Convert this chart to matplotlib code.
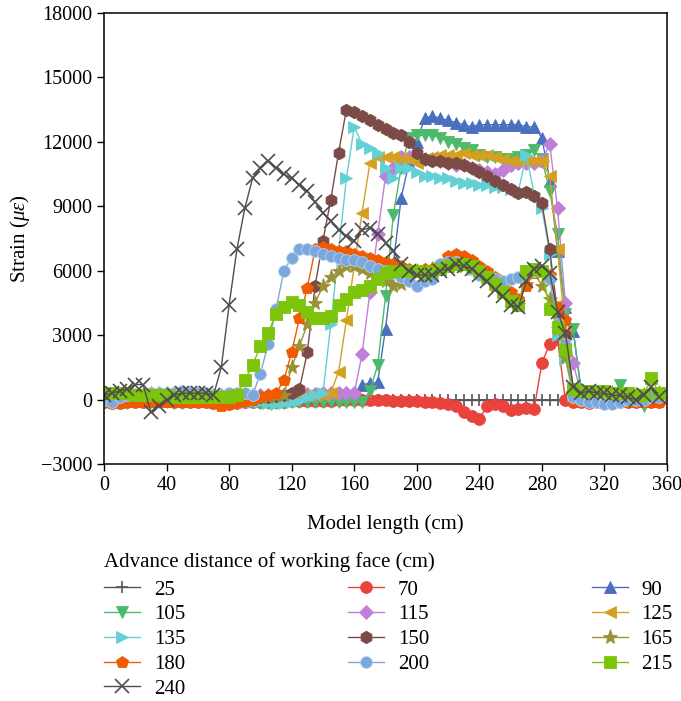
import numpy as np
import matplotlib
matplotlib.use("Agg")
import matplotlib.pyplot as plt

plt.rcParams['font.family'] = ['Liberation Serif', 'DejaVu Serif']
plt.rcParams['mathtext.fontset'] = 'custom'
plt.rcParams['mathtext.rm'] = 'Liberation Serif'
plt.rcParams['mathtext.it'] = 'Liberation Serif:italic'

# model length positions (cm)
x = np.arange(0, 360, 5)

s25 = [0] * 72
s70 = [-100, -150, -150, -100, -100, -100, -50, -50, -50, -100, -100, -100,
       -100, -100, -150, -150, -200, -150, -100, -100, -100, -100, -100, -100,
       -50, -50, -50, -50, -50, -50, 0, 0, 0, 0, 0, 0,
       0, -50, -50, -50, -50, -100, -100, -150, -200, -300, -600, -750,
       -900, -300, -200, -300, -500, -450, -400, -450, 1700, 2600, 2800, 0,
       -100, -100, -150, -100, -100, -150, -100, -100, -100, -100, -100, -100]
s90 = [100, 100, 50, 50, 100, 100, 100, 50, 50, 100, 100, 100,
       100, 100, 100, 50, 50, 50, 50, 50, 100, 100, 100, 100,
       100, 100, 100, 100, 100, 100, 150, 150, 200, 700, 750, 800,
       3300, 6300, 9400, 11000, 12000, 13100, 13200, 13100, 13000, 12900, 12800, 12700,
       12800, 12800, 12800, 12800, 12800, 12800, 12700, 12700, 12200, 10200, 6900, 4300,
       3200, 500, 300, 300, 200, 200, 100, 100, 100, 100, 100, 100]
s105 = [-100, -100, -150, -150, -100, -100, -100, -100, -100, -150, -150, -100,
        -100, -100, -100, -100, -100, -100, -100, -100, -150, -150, -150, -150,
        -100, -100, -100, -100, -100, -100, -100, -100, -100, -100, 400, 1600,
        4800, 8600, 10800, 12200, 12300, 12300, 12300, 12200, 12000, 11900, 11700, 11600,
        11400, 11300, 11300, 11200, 11200, 11300, 11400, 11600, 11200, 9700, 7700, 4000,
        3300, 400, 300, 300, 300, 300, 700, 300, 100, -300, 200, 100]
s115 = [100, 100, 150, 150, 200, 200, 300, 300, 300, 300, 300, 300,
        300, 250, 200, 200, 200, 200, 200, 200, 200, 200, 200, 200,
        200, 200, 250, 250, 300, 300, 300, 300, 300, 2100, 5000, 7700,
        10400, 10800, 11300, 11300, 11300, 11200, 11200, 11100, 11000, 10900, 10900, 10800,
        10700, 10600, 10500, 10700, 10900, 11000, 11000, 11000, 11100, 11900, 8900, 4500,
        1700, 300, 200, 100, 0, 0, 0, 0, 0, 0, 100, 100]
s125 = [100, 100, 100, 100, 100, 100, 100, 100, 100, 100, 100, 100,
        100, 100, 100, 100, 100, 100, 50, 50, 100, 100, 100, 200,
        200, 200, 200, 200, 200, 300, 1300, 3700, 6200, 8700, 11000, 11300,
        11300, 11300, 11200, 11200, 11000, 11200, 11300, 11400, 11400, 11400, 11500, 11400,
        11400, 11400, 11300, 11200, 11100, 11100, 11100, 11100, 11100, 10400, 7000, 3100,
        500, 300, 200, 200, 200, 200, 200, 200, 200, 200, 200, 200]
s135 = [100, 100, 100, 50, 50, 50, 50, 50, 50, 50, 50, 50,
        0, 0, 0, 0, -50, -50, -100, -100, -100, -150, -200, -150,
        -100, -50, 100, 200, 300, 3500, 6900, 10300, 12700, 11900, 11700, 11500,
        10800, 10300, 10800, 10800, 10600, 10400, 10400, 10300, 10300, 10200, 10100, 10100,
        10000, 10000, 9900, 9900, 9800, 9700, 11400, 9600, 8900, 6800, 3000, 1900,
        200, 100, 100, 50, 0, 0, 0, 0, 0, 0, 100, 100]
s150 = [0, 50, 50, 0, 0, 50, 50, 0, 0, 50, 50, 0,
        0, 0, 0, 50, 50, 50, 50, 100, 100, 100, 150, 200,
        300, 500, 2200, 5300, 7400, 9300, 11500, 13500, 13400, 13200, 13000, 12800,
        12600, 12400, 12300, 12000, 11500, 11200, 11100, 11100, 11000, 11000, 10900, 10800,
        10600, 10400, 10200, 10000, 9800, 9600, 9650, 9500, 9150, 7000, 4000, 3000,
        500, 300, 300, 300, 300, 300, 300, 200, 200, 100, 100, 100]
s165 = [100, 100, 100, 100, 100, 100, 100, 100, 100, 100, 100, 100,
        100, 100, 100, 100, 100, 100, 100, 100, 100, 100, 150, 200,
        1500, 2500, 3500, 4500, 5300, 5700, 6000, 6200, 6200, 6100, 5900, 5800,
        5500, 5300, 5400, 5700, 6000, 6000, 6100, 6100, 6200, 6200, 6200, 6100,
        5900, 5600, 5300, 5000, 4600, 4400, 5400, 5900, 5300, 4700, 3300, 2000,
        300, 300, 300, 300, 300, 300, 200, 200, 200, 200, 300, 300]
s180 = [-100, -150, -150, -100, -100, -100, -100, -100, -100, -100, -100, -100,
        -100, -100, -150, -300, -200, -100, -50, 0, 100, 200, 300, 900,
        2200, 3800, 5200, 7000, 7100, 7000, 6900, 6900, 6800, 6700, 6600, 6500,
        6400, 6300, 6200, 6100, 6000, 6100, 6100, 6300, 6700, 6800, 6700, 6500,
        6200, 6000, 5700, 5300, 5000, 4700, 5300, 5900, 6000, 5800, 4300, 3700,
        0, -100, -100, -100, -150, -100, -100, -100, -100, -100, -100, -100]
s200 = [0, -100, 100, 200, 200, 200, 300, 300, 300, 300, 400, 300,
        300, 300, 200, 200, 300, 300, 300, 200, 1200, 2600, 4200, 6000,
        6600, 7000, 7000, 6900, 6800, 6700, 6600, 6500, 6500, 6400, 6200, 6100,
        6000, 5900, 5700, 5500, 5300, 5500, 5600, 6300, 6400, 6400, 6300, 6100,
        5800, 5700, 5600, 5500, 5600, 5700, 5900, 6000, 6000, 5600, 3500, 2600,
        100, 0, -100, -100, -200, -200, -100, 0, 0, 0, 100, 100]
s215 = [300, 300, 300, 300, 200, 200, 200, 200, 200, 100, 100, 100,
        100, 100, 100, 100, 100, 200, 900, 1600, 2500, 3100, 4000, 4300,
        4550, 4400, 4100, 3800, 3800, 3900, 4400, 4700, 5000, 5100, 5300, 5600,
        5900, 6000, 6000, 6000, 6000, 5900, 6000, 6100, 6200, 6300, 6300, 6200,
        6000, 5700, 5400, 5000, 4600, 4400, 6000, 6100, 6000, 4200, 3400, 2300,
        500, 400, 400, 400, 400, 300, 300, 300, 200, 200, 1000, 300]
s240 = [200, 300, 400, 500, 700, 700, -600, -300, 0, 200, 300, 300,
        300, 300, 200, 1500, 4400, 7000, 8900, 10300, 10800, 11100, 10800, 10500,
        10300, 10000, 9700, 9200, 8700, 8300, 7900, 7600, 7400, 7900, 8000, 7700,
        7300, 6900, 6300, 6000, 5800, 5800, 5800, 6000, 6100, 6300, 6200, 6100,
        5800, 5500, 5100, 4800, 4400, 4300, 5500, 6100, 6200, 5900, 4100, 3100,
        600, 300, 400, 300, 300, 200, 200, 100, 0, 200, 600, 100]

labels = ['25', '70', '90', '105', '115', '125', '135', '150', '165', '180', '200', '215', '240']
series = [s25, s70, s90, s105, s115, s125, s135, s150, s165, s180, s200, s215, s240]
colors = ['#555555', '#e8433c', '#4a6fbf', '#4cba6a', '#c07fd8', '#d4a020', '#62d0d4',
          '#7c4a47', '#9b9236', '#f05a00', '#7aa8dc', '#7cc50a', '#4d4d4d']
markers = ['+', 'o', '^', 'v', 'D', '<', '>', 'h', '*', 'p', 'o', 's', 'x']
msizes = [9, 8.5, 8.5, 8.5, 7.5, 8.5, 8.5, 9, 11, 9, 8.5, 8, 9.5]

fig = plt.figure(figsize=(6.81, 7.01), dpi=100)
ax = fig.add_axes([104/681, 1-464/701, (667-104)/681, (464-13)/701])

handles = []
for lab, ys, c, m, ms in zip(labels, series, colors, markers, msizes):
    mec = c
    if lab == '200':
        mec = '#b8d0ee'
    h, = ax.plot(x, ys, color=c, marker=m, markersize=ms, lw=1.0,
                 markeredgecolor=mec, markeredgewidth=1.2 if m in ('+', 'x') else 0.6,
                 label=lab)
    handles.append(h)

ax.set_xlim(0, 360)
ax.set_ylim(-3000, 18000)
ax.set_xticks(np.arange(0, 361, 40))
ax.set_yticks(np.arange(-3000, 18001, 3000))
ax.tick_params(direction='out', length=5, width=1, labelsize=14.5, top=False, right=False)
for sp in ax.spines.values():
    sp.set_linewidth(1.1)
ax.set_xlabel('Model length (cm)', fontsize=15, labelpad=14)
ax.set_ylabel(r'Strain ($\mu\varepsilon$)', fontsize=15, labelpad=6)

fig.text(104/681, 1-562/701, 'Advance distance of working face (cm)',
         fontsize=15, ha='left', va='center')

# row-major order in a 3-column legend
order = [0, 3, 6, 9, 12, 1, 4, 7, 10, 2, 5, 8, 11]
leg = fig.legend([handles[i] for i in order], [labels[i] for i in order],
                 loc='upper left', bbox_to_anchor=(104/681, 1-580/701), ncol=3,
                 frameon=False, fontsize=15, handlelength=1.73,
                 handletextpad=0.67, columnspacing=7.8, labelspacing=0.25,
                 borderpad=0, borderaxespad=0)

fig.savefig('out.png', dpi=100)
